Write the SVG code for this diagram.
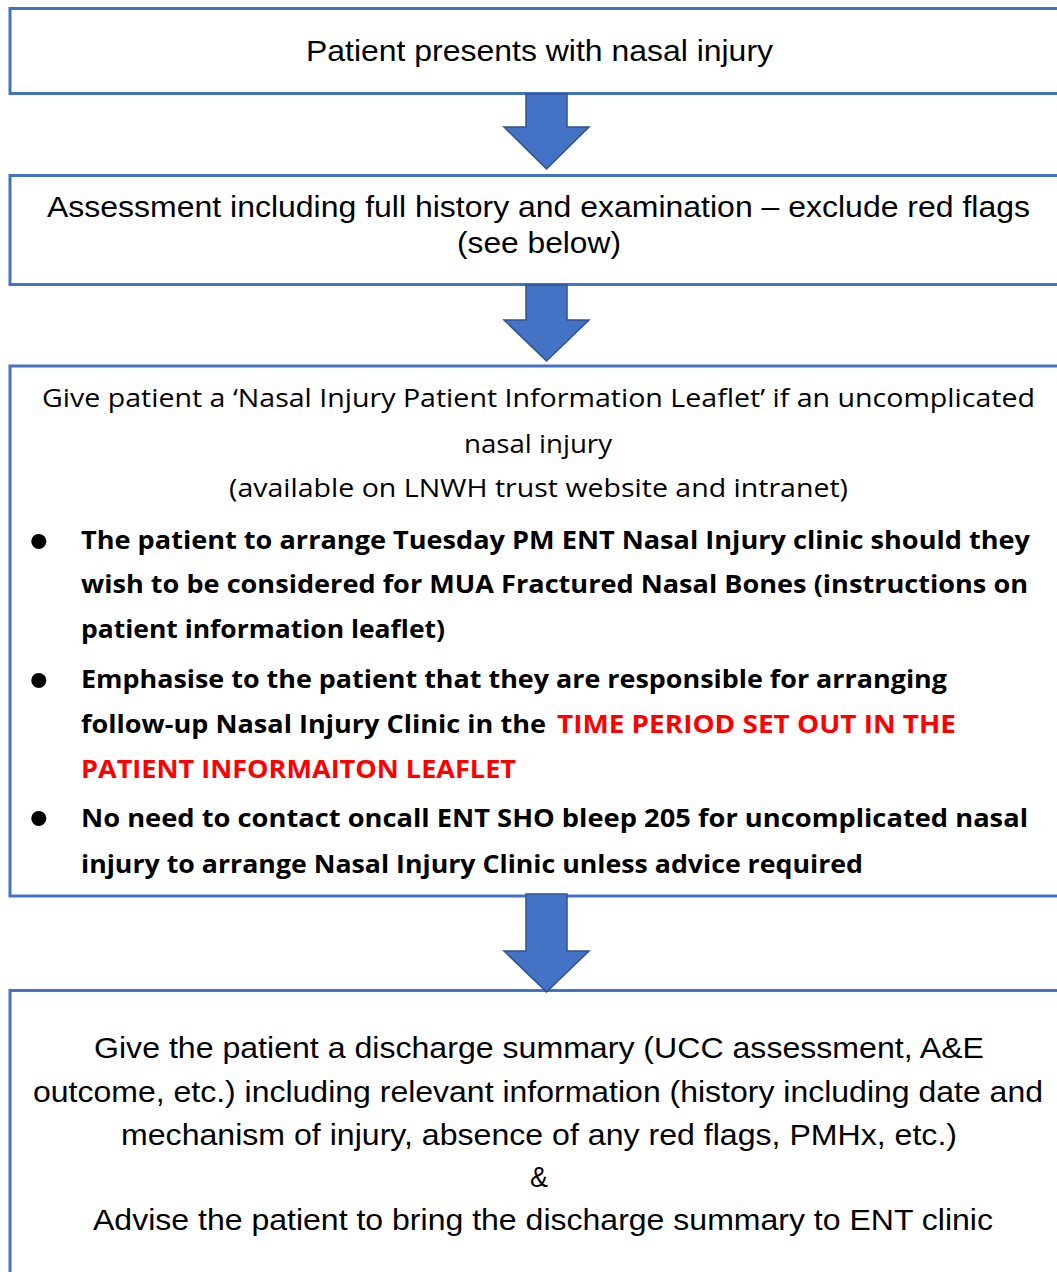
<svg xmlns="http://www.w3.org/2000/svg" width="1057" height="1272" viewBox="0 0 1057 1272">
<style>
.box{fill:#FFFFFF;stroke:#4472C4;stroke-width:3}
.arrow{fill:#4472C4;stroke:#2F528F;stroke-width:1.5;stroke-linejoin:miter}
.ar{font-family:"Liberation Sans",Arial,sans-serif;font-size:30px;fill:#000000}
.cal{font-family:"Open Sans","Noto Sans",sans-serif;font-size:26px;fill:#000000}
.calb{font-family:"Open Sans","Noto Sans",sans-serif;font-size:25px;font-weight:bold;fill:#000000}
.red{fill:#FF0000}
.bul{font-family:"Liberation Sans",Arial,sans-serif;font-size:56px;fill:#000000}
</style>
<rect x="0" y="0" width="1057" height="1272" fill="#FFFFFF"/>

<g id="node1">
<rect class="box" x="10" y="8.5" width="1060" height="85"/>
<text class="ar" x="306" y="61" textLength="467" lengthAdjust="spacingAndGlyphs">Patient presents with nasal injury</text>
</g>

<g id="node2">
<rect class="box" x="10" y="175.5" width="1060" height="109"/>
<text class="ar" x="47" y="217" textLength="983" lengthAdjust="spacingAndGlyphs">Assessment including full history and examination – exclude red flags</text>
<text class="ar" x="457" y="253" textLength="164" lengthAdjust="spacingAndGlyphs">(see below)</text>
</g>

<g id="node3">
<rect class="box" x="10" y="366" width="1060" height="530"/>
<text class="cal" x="42" y="407" textLength="993" lengthAdjust="spacingAndGlyphs">Give patient a &#8216;Nasal Injury Patient Information Leaflet&#8217; if an uncomplicated</text>
<text class="cal" x="464" y="453" textLength="148" lengthAdjust="spacingAndGlyphs">nasal injury</text>
<text class="cal" x="229" y="497" textLength="619" lengthAdjust="spacingAndGlyphs">(available on LNWH trust website and intranet)</text>
<text class="bul" x="29" y="560">•</text>
<text class="calb" x="81" y="549" textLength="949" lengthAdjust="spacingAndGlyphs">The patient to arrange Tuesday PM ENT Nasal Injury clinic should they</text>
<text class="calb" x="81" y="593" textLength="947" lengthAdjust="spacingAndGlyphs">wish to be considered for MUA Fractured Nasal Bones (instructions on</text>
<text class="calb" x="81" y="638" textLength="364" lengthAdjust="spacingAndGlyphs">patient information leaflet)</text>
<text class="bul" x="29" y="699">•</text>
<text class="calb" x="81" y="688" textLength="866" lengthAdjust="spacingAndGlyphs">Emphasise to the patient that they are responsible for arranging</text>
<text class="calb" x="81" y="733" textLength="465" lengthAdjust="spacingAndGlyphs">follow-up Nasal Injury Clinic in the</text>
<text class="calb red" x="557" y="733" textLength="399" lengthAdjust="spacingAndGlyphs">TIME PERIOD SET OUT IN THE</text>
<text class="calb red" x="81" y="778" textLength="435" lengthAdjust="spacingAndGlyphs">PATIENT INFORMAITON LEAFLET</text>
<text class="bul" x="29" y="837">•</text>
<text class="calb" x="81" y="827" textLength="947" lengthAdjust="spacingAndGlyphs">No need to contact oncall ENT SHO bleep 205 for uncomplicated nasal</text>
<text class="calb" x="81" y="873" textLength="782" lengthAdjust="spacingAndGlyphs">injury to arrange Nasal Injury Clinic unless advice required</text>
</g>

<g id="node4">
<rect class="box" x="10" y="990.5" width="1060" height="300"/>
<text class="ar" x="94" y="1058" textLength="890" lengthAdjust="spacingAndGlyphs">Give the patient a discharge summary (UCC assessment, A&amp;E</text>
<text class="ar" x="33" y="1102" textLength="1010" lengthAdjust="spacingAndGlyphs">outcome, etc.) including relevant information (history including date and</text>
<text class="ar" x="121" y="1145" textLength="836" lengthAdjust="spacingAndGlyphs">mechanism of injury, absence of any red flags, PMHx, etc.)</text>
<text class="ar" x="530" y="1187" textLength="18" lengthAdjust="spacingAndGlyphs">&amp;</text>
<text class="ar" x="93" y="1230" textLength="900" lengthAdjust="spacingAndGlyphs">Advise the patient to bring the discharge summary to ENT clinic</text>
</g>

<g id="connectors">
<polygon class="arrow" points="526,94 567,94 567,127 589,127 546.5,169 504,127 526,127"/>
<polygon class="arrow" points="526,285 567,285 567,320 589,320 546.5,361 504,320 526,320"/>
<polygon class="arrow" points="526,894 567,894 567,951 589,951 546.5,992 504,951 526,951"/>
</g>
</svg>
